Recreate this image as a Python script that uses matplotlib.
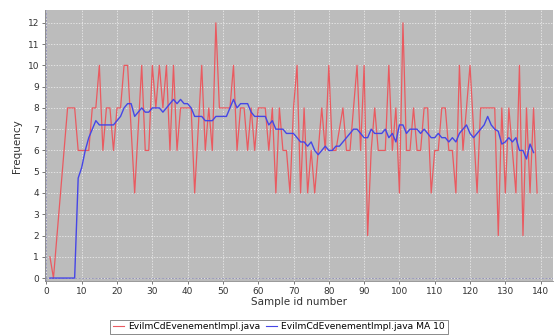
import matplotlib
matplotlib.use("Agg")
import matplotlib.pyplot as plt
import numpy as np

# sample id numbers
samples = list(range(1, 140))

# raw frequency per sample (EvilmCdEvenementImpl.java)
freq = [1, 0, 2, 4, 6, 8, 8, 8, 6, 6,
        6, 6, 8, 8, 10, 6, 8, 8, 6, 8,
        8, 10, 10, 7, 4, 7, 10, 6, 6, 10,
        8, 10, 8, 10, 6, 10, 6, 8, 8, 8,
        8, 4, 7, 10, 6, 8, 6, 12, 8, 8,
        8, 8, 10, 6, 8, 8, 6, 8, 6, 8,
        8, 8, 6, 8, 4, 8, 6, 6, 4, 8,
        10, 4, 8, 4, 6, 4, 6, 8, 6, 10,
        6, 6, 7, 8, 6, 6, 8, 10, 6, 10,
        2, 6, 8, 6, 6, 6, 10, 6, 8, 4,
        12, 6, 6, 8, 6, 6, 8, 8, 4, 6,
        6, 8, 8, 6, 6, 4, 10, 6, 8, 10,
        7, 4, 8, 8, 8, 8, 8, 2, 8, 4,
        8, 6, 4, 10, 2, 8, 4, 8, 4]

# moving average (MA 10)
ma_samples = list(range(1, 139))
ma10 = [0, 0, 0, 0, 0, 0, 0, 0, 4.7, 5.2,
        6.0, 6.6, 7.0, 7.4, 7.2, 7.2, 7.2, 7.2, 7.2, 7.4,
        7.6, 8.0, 8.2, 8.2, 7.6, 7.8, 8.0, 7.8, 7.8, 8.0,
        8.0, 8.0, 7.8, 8.0, 8.2, 8.4, 8.2, 8.4, 8.2, 8.2,
        8.0, 7.6, 7.6, 7.6, 7.4, 7.4, 7.4, 7.6, 7.6, 7.6,
        7.6, 8.0, 8.4, 8.0, 8.2, 8.2, 8.2, 7.8, 7.6, 7.6,
        7.6, 7.6, 7.2, 7.4, 7.0, 7.0, 7.0, 6.8, 6.8, 6.8,
        6.6, 6.4, 6.4, 6.2, 6.4, 6.0, 5.8, 6.0, 6.2, 6.0,
        6.0, 6.2, 6.2, 6.4, 6.6, 6.8, 7.0, 7.0, 6.8, 6.6,
        6.6, 7.0, 6.8, 6.8, 6.8, 7.0, 6.6, 6.8, 6.4, 7.2,
        7.2, 6.8, 7.0, 7.0, 7.0, 6.8, 7.0, 6.8, 6.6, 6.6,
        6.8, 6.6, 6.6, 6.4, 6.6, 6.4, 6.8, 7.0, 7.2, 6.8,
        6.6, 6.8, 7.0, 7.2, 7.6, 7.2, 7.0, 6.9, 6.3, 6.4,
        6.6, 6.4, 6.6, 6.0, 6.0, 5.6, 6.3, 5.9]

x_ticks = list(range(0, 150, 10))
y_ticks = list(range(0, 13))
legend_labels = ["EvilmCdEvenementImpl.java", "EvilmCdEvenementImpl.java MA 10"]

fig = plt.figure(figsize=(5.58, 3.36), dpi=100)
ax = fig.add_axes([0.080, 0.163, 0.911, 0.807])
ax.set_facecolor("#bcbcbc")

ax.grid(True, color="#f2f2f2", linestyle=(0, (2, 2)), linewidth=0.5)
ax.set_axisbelow(True)
ax.axhline(0, color="#8a8ab8", linestyle=(0, (2, 2)), linewidth=0.6, zorder=1)
ax.axvline(0, color="#8a8ab8", linestyle=(0, (2, 2)), linewidth=0.6, zorder=1)

l1, = ax.plot(samples, freq, color="#ea5a60", linewidth=0.9, zorder=3)
l2, = ax.plot(ma_samples, ma10, color="#4646e6", linewidth=1.0, zorder=4)

ax.set_xlim(-0.5, 143.5)
ax.set_ylim(-0.15, 12.6)
ax.set_xticks(x_ticks)
ax.set_yticks(y_ticks)
ax.tick_params(labelsize=6.5, length=2, width=0.5, colors="#444444",
               labelcolor="#333333", pad=2)
for s in ["top", "right"]:
    ax.spines[s].set_visible(False)
for s in ["left", "bottom"]:
    ax.spines[s].set_color("#888888")
    ax.spines[s].set_linewidth(0.6)

ax.set_xlabel("Sample id number", fontsize=7.5, color="#333333", labelpad=1)
ax.set_ylabel("Frequency", fontsize=7.5, color="#333333", labelpad=4)

leg = fig.legend([l1, l2], legend_labels, loc="lower center", ncol=2,
                 bbox_to_anchor=(0.5, 0.0), fontsize=6.6, frameon=True,
                 fancybox=False, handlelength=1.2, handletextpad=0.4,
                 columnspacing=0.7, borderpad=0.3, borderaxespad=0.2)
leg.get_frame().set_edgecolor("#555555")
leg.get_frame().set_linewidth(0.6)
for line in leg.get_lines():
    line.set_linewidth(0.8)

fig.savefig("out.png", dpi=100)
